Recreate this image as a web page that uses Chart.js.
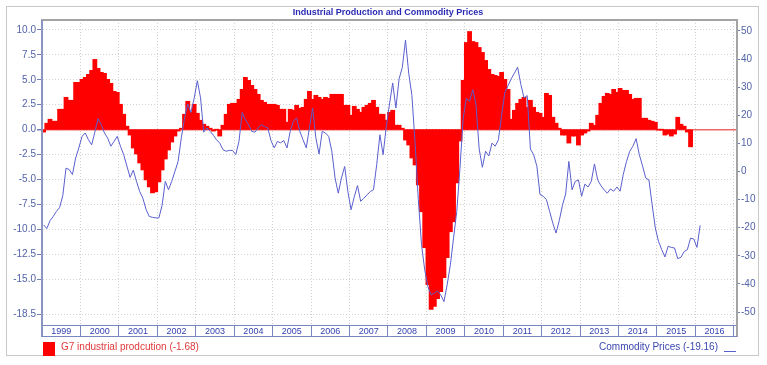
<!DOCTYPE html>
<html>
<head>
<meta charset="utf-8">
<script src="https://cdn.jsdelivr.net/npm/chart.js@4.4.1/dist/chart.umd.min.js"></script>
<style>
  body { margin: 0; background: #fff; }
  #wrap { position: relative; width: 767px; height: 365px; font-family: 'Liberation Sans', Arial, sans-serif; }
  #frame { position: absolute; left: 6px; top: 6px; width: 751px; height: 348px; border: 1px solid #c8c8c8; pointer-events: none; }
  .lg { position: absolute; font-size: 10px; line-height: 12px; white-space: nowrap; }
</style>
</head>
<body>
<div id="wrap">
  <canvas id="chart" width="767" height="365"></canvas>
  <div id="frame"></div>
  <div style="position:absolute;left:43px;top:342px;width:12px;height:14px;background:#ff0000"></div>
  <div class="lg" style="left:61px;top:341px;color:#e03a3a">G7 industrial prodcution (-1.68)</div>
  <div class="lg" style="right:49px;top:341px;color:#3a48b0">Commodity Prices (-19.16)</div>
  <div style="position:absolute;left:724px;top:351px;width:12px;height:1px;background:#5a5fce"></div>
</div>
<script>
// tick labels
var years = ['1999','2000','2001','2002','2003','2004','2005','2006','2007','2008',
             '2009','2010','2011','2012','2013','2014','2015','2016'];
var leftTicks = [10, 7.5, 5, 2.5, 0, -2.5, -5, -7.5, -10, -12.5, -15, -18.5];
var rightTicks = [50, 40, 30, 20, 10, 0, -10, -20, -30, -40, -50];

// monthly categories, Jan 1999 .. Jan 2017
var months = [];
years.forEach(function (y) {
  for (var m = 1; m <= 12; m++) months.push(y + '-' + (m < 10 ? '0' + m : m));
});
months.push('2017-01');

// G7 industrial production, % y/y (left axis), Jan 1999 - Nov 2015
var g7Production = [
  -0.2, 0.6, 1.0, 0.8, 0.8, 2.0, 2.0, 3.2, 2.9, 2.9, 4.7, 4.7,
  5.0, 5.2, 5.5, 5.9, 7.0, 6.1, 5.7, 5.6, 5.0, 4.6, 3.8, 3.7,
  2.5, 1.5, 0.3, -0.5, -1.8, -2.4, -3.3, -4.0, -5.0, -5.7, -6.3, -6.2,
  -5.2, -4.0, -2.9, -2.0, -1.2, -0.6, -0.1, 0.1, 1.5, 2.8, 1.7, 2.5,
  1.6, 0.9, 0.5, 0.3, 0.1, -0.1, 0.0, -0.6, 0.4, 1.5, 2.5, 2.6,
  2.6, 3.0, 4.0, 5.2, 4.9, 4.4, 4.0, 3.5, 2.9, 2.7, 2.5, 2.5,
  2.5, 2.4, 2.0, 2.0, 0.7, 2.0, 1.9, 2.4, 2.1, 2.2, 3.0, 3.8,
  3.0, 3.4, 3.2, 3.0, 3.2, 3.1, 3.5, 3.5, 3.5, 3.5, 2.4, 2.4,
  1.4, 2.3, 2.0, 1.7, 2.2, 2.4, 2.6, 2.9, 2.2, 1.5, 1.5, 0.9,
  1.7, 1.9, 0.4, 0.4, 0.1, -1.0, -1.5, -2.8, -3.5, -5.5, -8.2, -11.8,
  -15.5, -18.0, -17.7, -16.9, -16.2, -14.8, -12.8, -10.2, -9.2, -5.3, -1.1, 4.9,
  8.7, 9.8, 8.8, 8.7, 8.2, 7.7, 6.9, 6.0, 5.5, 5.4, 5.3, 5.7,
  5.0, 4.0, 1.0, 1.9, 2.6, 3.0, 3.2, 2.2, 2.9, 2.2, 1.7, 1.6,
  1.2, 3.6, 3.4, 1.2, 0.6, 0.1, -0.5, -0.5, -1.3, -0.6, -0.6, -1.5,
  -0.5, -0.3, -0.1, 0.6, 0.4, 1.4, 2.6, 3.3, 3.6, 3.5, 4.0, 3.7,
  4.1, 3.9, 3.9, 3.5, 3.0, 3.1, 3.1, 1.1, 1.1, 0.9, 0.8, 0.7,
  0.0, 0.0, -0.5, -0.4, -0.6, -0.4, 1.2, 0.5, 0.3, -0.2, -1.68
];

// Commodity prices, % y/y (right axis), Jan 1999 - Feb 2016
var commodityPrices = [
  -19.0, -20.3, -17.5, -16.0, -14.2, -12.8, -8.5, 1.2, 0.7, -1.1, 4.8, 8.4,
  12.5, 13.7, 11.3, 9.5, 14.0, 18.8, 16.7, 13.7, 11.9, 9.0, 10.7, 12.5,
  9.0, 6.0, 2.0, -2.1, 0.5, -3.5, -7.1, -9.5, -13.5, -16.0, -16.3, -16.5,
  -16.5, -12.0, -3.5, -6.5, -3.5, 0.0, 3.6, 12.0, 19.0, 24.0, 21.0, 26.0,
  32.3, 26.2, 14.0, 15.5, 14.3, 12.9, 11.3, 10.1, 7.8, 7.2, 7.5, 7.5,
  6.0, 10.7, 21.0, 18.4, 16.7, 14.3, 14.0, 15.5, 16.7, 16.0, 15.5, 11.0,
  8.4, 10.7, 10.2, 11.0, 8.4, 14.3, 18.0, 19.0, 14.3, 11.3, 8.4, 15.5,
  22.6, 12.0, 6.2, 14.3, 13.7, 12.5, 7.2, -2.3, -7.7, -2.3, 1.8, -7.1,
  -13.6, -9.0, -5.0, -10.6, -9.5, -8.3, -7.1, -6.5, 2.4, 13.1, 6.0, 16.0,
  24.0, 31.5, 22.6, 33.0, 37.0, 46.8, 35.0, 27.0, 10.0, -10.0, -26.0, -35.0,
  -41.0, -43.9, -43.3, -42.5, -43.9, -46.3, -40.3, -33.2, -23.7, -14.2, 1.2, 19.0,
  26.0, 25.0, 29.1, 23.8, 8.0, 1.5, 7.2, 5.5, 10.1, 9.0, 11.3, 20.0,
  28.0, 30.5, 33.0, 35.0, 37.1, 31.0, 26.2, 27.0, 8.0, 6.0, 2.0, -8.2,
  -8.8, -10.0, -14.2, -18.4, -21.9, -17.5, -12.0, -8.0, 3.6, -6.5, -3.5, -3.0,
  -8.8, -4.5, -5.5, -3.5, 2.7, -3.0, -5.0, -6.5, -7.7, -6.2, -7.0, -5.5,
  -7.0, -1.0, 3.6, 7.2, 9.0, 11.7, 6.0, 2.0, -2.3, -3.0, -11.8, -20.1,
  -24.9, -27.8, -30.4, -26.6, -27.0, -27.2, -31.0, -30.5, -28.5, -27.8, -23.7, -24.0,
  -27.0, -19.16
];

var frame = {
  id: 'frame',
  afterDraw: function (chart) {
    var ctx = chart.ctx, a = chart.chartArea, band = chart.scales.x;
    ctx.save();
    ctx.lineWidth = 2;
    ctx.strokeStyle = '#a4a4a4';
    ctx.beginPath();
    ctx.moveTo(a.left - 1, a.top); ctx.lineTo(a.right + 1, a.top);
    ctx.moveTo(a.right, a.top); ctx.lineTo(a.right, band.bottom);
    ctx.stroke();
    ctx.strokeStyle = '#8a96c0';
    ctx.beginPath();
    ctx.moveTo(a.left, a.top); ctx.lineTo(a.left, band.bottom);
    ctx.stroke();
    ctx.lineWidth = 1;
    ctx.strokeStyle = '#7a86c0';
    ctx.beginPath();
    ctx.moveTo(a.left, band.bottom - 0.5); ctx.lineTo(a.right, band.bottom - 0.5);
    ctx.stroke();
    ctx.restore();
  }
};

Chart.defaults.font.family = "'Liberation Sans', Arial, sans-serif";

var chart = new Chart(document.getElementById('chart'), {
  type: 'bar',
  data: {
    labels: months,
    datasets: [{
      type: 'line',
      label: 'Commodity Prices',
      data: commodityPrices,
      yAxisID: 'y1',
      borderColor: '#5a5fce',
      borderWidth: 1,
      pointRadius: 0,
      tension: 0,
      order: 0
    }, {
      type: 'bar',
      label: 'G7 industrial prodcution',
      data: g7Production,
      yAxisID: 'y',
      backgroundColor: '#ff0000',
      borderWidth: 0,
      inflateAmount: 0.8,
      barPercentage: 1,
      categoryPercentage: 1,
      order: 1
    }]
  },
  options: {
    responsive: false,
    animation: false,
    layout: { padding: { left: 9, right: 0, top: 0, bottom: 28 } },
    plugins: {
      legend: { display: false },
      tooltip: { enabled: false },
      title: {
        display: true,
        text: 'Industrial Production and Commodity Prices',
        color: '#2a2ab4',
        font: { size: 9, weight: 'bold' },
        padding: { top: 7, bottom: 2.2 }
      }
    },
    scales: {
      x: {
        position: 'bottom',
        offset: true,
        grid: {
          offset: true,
          color: function (c) { return c.index % 12 === 0 ? '#d2d2d2' : 'transparent'; },
          tickColor: function (c) { return c.index % 12 === 0 ? '#7a86c0' : 'transparent'; },
          tickLength: 12
        },
        border: { color: '#7a86c0', dash: [1, 2] },
        ticks: {
          autoSkip: false,
          maxRotation: 0,
          minRotation: 0,
          padding: -11,
          labelOffset: -1.6,
          color: '#3442b0',
          font: { size: 9 },
          callback: function (v, i) {
            return i % 12 === 6 ? years[Math.floor(i / 12)] : '';
          }
        },
        afterFit: function (s) { s.height = 12; }
      },
      y: {
        position: 'left',
        min: -19.6,
        max: 11,
        afterBuildTicks: function (s) { s.ticks = leftTicks.map(function (v) { return { value: v }; }); },
        grid: {
          color: function (c) { return c.tick && c.tick.value === 0 ? '#f06868' : '#d2d2d2'; },
          lineWidth: function (c) { return c.tick && c.tick.value === 0 ? 1.5 : 1; },
          tickColor: '#7080b0',
          tickLength: 5
        },
        border: {
          color: '#8a96c0',
          width: 2,
          dash: function (c) { return c.tick && c.tick.value === 0 ? [] : [1, 2]; }
        },
        ticks: {
          color: '#5262a8',
          font: { size: 10 },
          padding: 1,
          callback: function (v) { return Number(v).toFixed(1); }
        },
        afterFit: function (s) { s.width = 33; }
      },
      y1: {
        position: 'right',
        min: -54.6,
        max: 53.9,
        afterBuildTicks: function (s) { s.ticks = rightTicks.map(function (v) { return { value: v }; }); },
        grid: { drawOnChartArea: false, tickColor: '#7080b0', tickLength: 3 },
        border: { color: '#a4a4a4', width: 2 },
        ticks: { color: '#5262a8', font: { size: 10 }, padding: 1 },
        afterFit: function (s) { s.width = 30; }
      }
    }
  },
  plugins: [frame]
});
</script>
</body>
</html>
